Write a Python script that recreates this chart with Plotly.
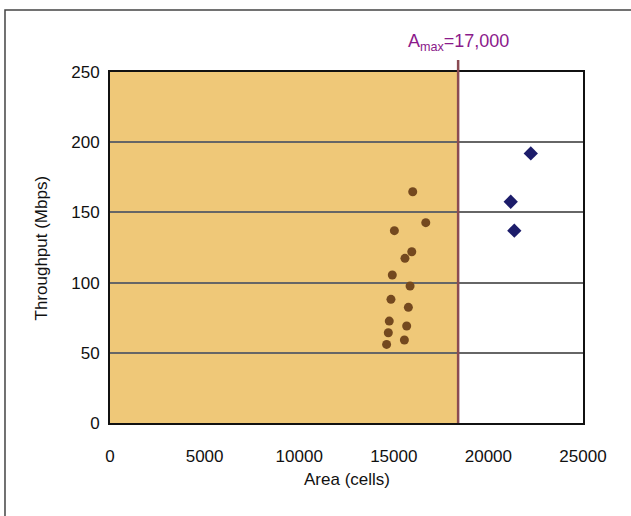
import plotly.graph_objects as go

# Data
area_in = [16000, 16690, 15030, 15950, 15590, 14920, 15860, 14850, 15770, 14760, 15680, 14710, 15560, 14620]
thr_in = [164.7, 142.7, 137.0, 122.0, 117.3, 105.4, 97.6, 88.1, 82.4, 72.6, 69.1, 64.3, 59.1, 56.0]
area_out = [22240, 21180, 21370]
thr_out = [192.0, 157.6, 137.0]
amax_x = 18400
amax_label = "A<sub>max</sub>=17,000"
x_title = "Area (cells)"
y_title = "Throughput (Mbps)"
x_ticks = [0, 5000, 10000, 15000, 20000, 25000]
y_ticks = [0, 50, 100, 150, 200, 250]

FONT = "Liberation Sans, Arial, sans-serif"

fig = go.Figure()

fig.add_trace(go.Scatter(
    x=area_in, y=thr_in, mode="markers",
    marker=dict(symbol="circle", size=9, color="#74491f"),
    showlegend=False, hoverinfo="x+y"))
fig.add_trace(go.Scatter(
    x=area_out, y=thr_out, mode="markers",
    marker=dict(symbol="diamond", size=11, color="#1c1c6a"),
    showlegend=False, hoverinfo="x+y"))

# shaded region under the Amax line
fig.add_shape(type="rect", xref="x", yref="y", x0=0, x1=amax_x, y0=0, y1=250,
              fillcolor="#efc878", line=dict(width=0), layer="below")
# Amax vertical line
fig.add_shape(type="line", xref="x", yref="paper", x0=amax_x, x1=amax_x, y0=0, y1=1.034,
              line=dict(color="#8a4b52", width=2.5))
# outer frame
fig.add_shape(type="rect", xref="paper", yref="paper", x0=-0.222, x1=1.12, y0=-0.31, y1=1.1766,
              line=dict(color="#444444", width=1.5), fillcolor="rgba(0,0,0,0)")

fig.add_annotation(x=amax_x, xref="x", y=1.085, yref="paper", text=amax_label,
                   showarrow=False, font=dict(color="#8b1a8b", size=18, family=FONT),
                   bgcolor="white", xanchor="center", yanchor="middle")
fig.add_annotation(x=0.5, xref="paper", y=-0.162, yref="paper", text=x_title,
                   showarrow=False, font=dict(color="#111", size=17, family=FONT),
                   xanchor="center", yanchor="middle")
fig.add_annotation(x=-0.1438, xref="paper", y=0.5, yref="paper", text=y_title, textangle=-90,
                   showarrow=False, font=dict(color="#111", size=17, family=FONT),
                   xanchor="center", yanchor="middle")

fig.update_xaxes(range=[0, 25000], tickvals=x_ticks, ticktext=[str(v) for v in x_ticks],
                 showgrid=False, zeroline=False, showline=True, mirror=True,
                 linecolor="#111111", linewidth=2,
                 ticks="outside", ticklen=17, tickcolor="rgba(0,0,0,0)",
                 tickfont=dict(size=17, color="#111", family=FONT))
fig.update_yaxes(range=[0, 250], tickvals=y_ticks,
                 showgrid=True, gridcolor="#666666", gridwidth=1.5, zeroline=False,
                 showline=True, mirror=True, linecolor="#111111", linewidth=2,
                 ticks="outside", ticklen=5, tickcolor="rgba(0,0,0,0)",
                 tickfont=dict(size=17, color="#111", family=FONT))

fig.update_layout(
    width=631, height=516,
    margin=dict(l=110, r=48, t=72, b=93),
    paper_bgcolor="white", plot_bgcolor="white",
    font=dict(family=FONT, color="#111"),
)

fig.write_html("out.html", config={"displayModeBar": False},
               post_script="document.body.style.margin='0';")
